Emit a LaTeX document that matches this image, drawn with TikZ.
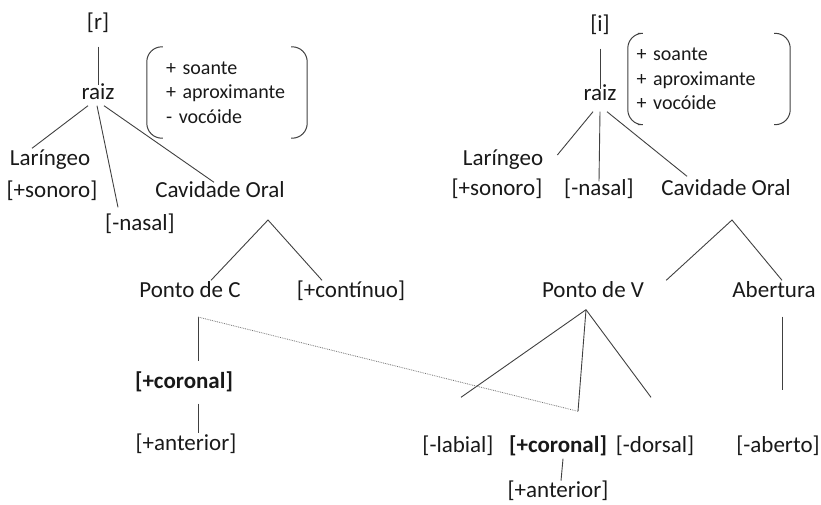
\documentclass[tikz,border=0pt]{standalone}
\usepackage{fontspec}
\setmainfont{Carlito}
\usepackage{tikz}
\usetikzlibrary{positioning}

\begin{document}
\begin{tikzpicture}[x=1pt, y=-1pt,
                tiernode/.style={font=\fontsize{23}{27}\selectfont, text=black!90, inner sep=1pt, text height=16pt, text depth=5pt},
                boldnode/.style={tiernode, font=\fontsize{23}{27}\selectfont\bfseries},
                featbox/.style={font=\fontsize{20}{24.5}\selectfont, text=black!90, align=left, minimum height=91pt, inner ysep=2pt},
                paren/.style={draw=black!75, line width=1pt, rounded corners=15pt},
                branch/.style={draw=black!75, line width=0.9pt},
                link/.style={draw=black!55, line width=0.8pt, densely dotted},
            ]
            \useasboundingbox (0,0) rectangle (821,504);

            % Nodes
            \node[tiernode]   (seg_r)    at (98,24)     {[r]};
            \node[tiernode]   (raiz_r)   at (98,94)     {raiz};
            \node[featbox, text width=122pt, inner xsep=19pt] (feats_r) at (227,92.5)
                {+ soante\\+ aproximante\\- vocóide};
            \node[tiernode]   (lar_r)    at (50,160)    {Laríngeo};
            \node[tiernode]   (son_r)    at (52,192)    {[+sonoro]};
            \node[tiernode]   (nas_r)    at (140,225)   {[-nasal]};
            \node[tiernode]   (cav_r)    at (220,192)   {Cavidade Oral};
            \node[tiernode]   (pontoC)   at (190,292)   {Ponto de C};
            \node[tiernode]   (cont_r)   at (351,292)   {[+contínuo]};
            \node[boldnode]   (cor_r)    at (184,383)   {[+coronal]};
            \node[tiernode]   (ant_r)    at (186,445)   {[+anterior]};

            \node[tiernode]   (seg_i)    at (600,26)    {[i]};
            \node[tiernode]   (raiz_i)   at (600,95)    {raiz};
            \node[featbox, text width=145pt, inner xsep=8.5pt] (feats_i) at (709,79)
                {+ soante\\+ aproximante\\+ vocóide};
            \node[tiernode]   (lar_i)    at (503,160)   {Laríngeo};
            \node[tiernode]   (son_i)    at (497,190)   {[+sonoro]};
            \node[tiernode]   (nas_i)    at (599,190)   {[-nasal]};
            \node[tiernode]   (cav_i)    at (726,190)   {Cavidade Oral};
            \node[tiernode]   (pontoV)   at (593,292)   {Ponto de V};
            \node[tiernode]   (abert)    at (774,292)   {Abertura};
            \node[tiernode]   (lab_i)    at (458,447)   {[-labial]};
            \node[boldnode]   (cor_i)    at (558,447)   {[+coronal]};
            \node[tiernode]   (dor_i)    at (655,447)   {[-dorsal]};
            \node[tiernode]   (abt_i)    at (778,447)   {[-aberto]};
            \node[tiernode]   (ant_i)    [below=22pt of cor_i]   {[+anterior]};

            \coordinate (apex_r) at (268,220);
            \coordinate (apex_i) at (732,220);
            \coordinate (hook_c) at (198,317);
            \coordinate (hook_v) at ([xshift=20pt,yshift=24pt]cor_i.north);

            % Brackets
            \draw[paren] ([xshift=16pt]feats_r.north west) -- (feats_r.north west) -- (feats_r.south west) -- ([xshift=16pt]feats_r.south west);
            \draw[paren] ([xshift=-16pt]feats_r.north east) -- (feats_r.north east) -- (feats_r.south east) -- ([xshift=-16pt]feats_r.south east);
            \draw[paren] ([xshift=10pt]feats_i.north west) -- (feats_i.north west) -- (feats_i.south west) -- ([xshift=10pt]feats_i.south west);
            \draw[paren] ([xshift=-16pt]feats_i.north east) -- (feats_i.north east) -- (feats_i.south east) -- ([xshift=-16pt]feats_i.south east);

            %Lines
            \draw[branch] ([yshift=-11pt]seg_r.south) -- ([yshift=-3pt]raiz_r.north);
            \draw[branch] ([xshift=-10pt]raiz_r.south) -- ([xshift=-18pt]lar_r.north);
            \draw[branch] ([xshift=-1pt]raiz_r.south) -- ([xshift=-22pt,yshift=6pt]nas_r.north);
            \draw[branch] ([xshift=6pt]raiz_r.south) -- ([xshift=-6pt,yshift=-2pt]cav_r.north);

            \draw[branch] ([xshift=21pt]pontoC.north) -- (apex_r) -- ([xshift=-29pt]cont_r.north);
            \draw[branch] (hook_c) -- ([xshift=14pt,yshift=10pt]cor_r.north);
            \draw[branch] ([xshift=14pt,yshift=-9pt]cor_r.south) -- ([xshift=12pt]ant_r.north);

            \draw[branch] ([yshift=-11pt]seg_i.south) -- ([yshift=-6pt]raiz_i.north);
            \draw[branch] ([xshift=-7pt,yshift=-5pt]raiz_i.south) -- ([xshift=13pt,yshift=5pt]lar_i.east);
            \draw[branch] ([yshift=-5pt]raiz_i.south) -- ([yshift=-3pt]nas_i.north);
            \draw[branch] ([xshift=7pt,yshift=-5pt]raiz_i.south) -- ([xshift=-39pt,yshift=2pt]cav_i.north);

            \draw[branch] ([xshift=21pt]pontoV.north east) -- (apex_i) -- ([xshift=8pt]abert.north);
            \draw[branch] ([xshift=-7pt,yshift=-6pt]pontoV.south) -- ([xshift=3pt,yshift=38pt]lab_i.north);
            \draw[branch] ([xshift=-7pt,yshift=-6pt]pontoV.south) -- (hook_v);
            \draw[branch] ([xshift=-7pt,yshift=-6pt]pontoV.south) -- ([xshift=-4pt,yshift=38pt]dor_i.north);
            \draw[branch] ([xshift=8pt,yshift=-13pt]abert.south) -- ([xshift=4pt,yshift=45pt]abt_i.north);
            \draw[branch] ([xshift=5pt]cor_i.south) -- ([xshift=3pt]ant_i.north);

            \draw[link] (hook_c) -- (hook_v);
        \end{tikzpicture}
\end{document}
